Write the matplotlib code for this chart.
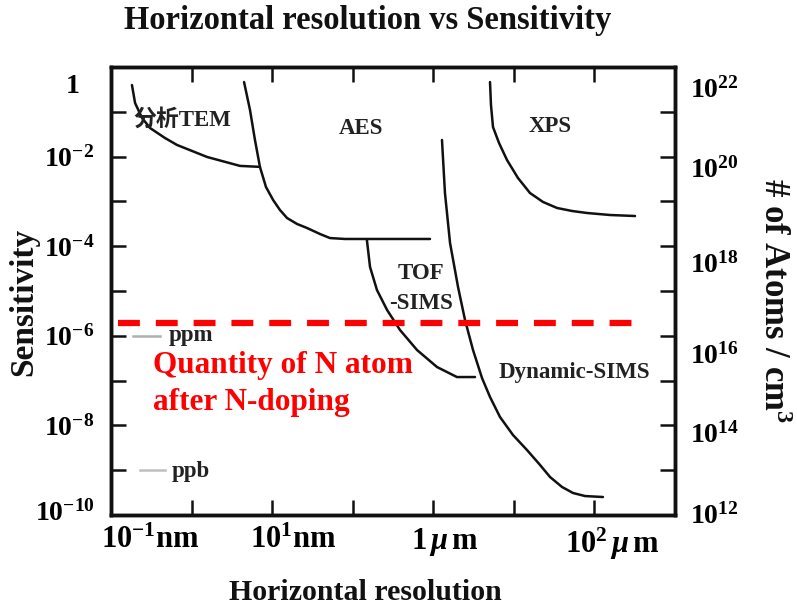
import matplotlib
matplotlib.use("Agg")
import matplotlib.pyplot as plt
import numpy as np

plt.rcParams['font.family'] = ['Liberation Serif', 'Noto Sans CJK SC', 'DejaVu Sans']
plt.rcParams['font.weight'] = 'bold'
plt.rcParams['mathtext.fontset'] = 'custom'
plt.rcParams['mathtext.rm'] = 'Liberation Serif:bold'
plt.rcParams['mathtext.bf'] = 'Liberation Serif:bold'
plt.rcParams['mathtext.it'] = 'Liberation Serif:bold:italic'

# ---------------- data (resolution in nm, sensitivity as fraction) -------------
tem_x = [0.182, 0.199, 0.243, 0.305, 0.468, 0.659, 1.56, 3.99, 7.06]
tem_y = [0.396, 0.157, 0.0728, 0.0435, 0.0260, 0.0182, 0.0098, 0.0062, 0.0059]

aes_x = [4.48, 5.31, 6.12, 7.06, 8.39, 10.3, 12.5, 15.3, 20.4, 27.1, 39.3, 52.2, 80.2, 910]
aes_y = [0.462, 0.110, 0.0235, 0.00586, 0.00209, 0.00107, 0.000643, 0.000426,
         0.000313, 0.000255, 0.000187, 0.000152, 0.000145, 0.000145]

tof_x = [150, 164, 200, 267, 386, 628, 1112, 1968, 3296]
tof_y = [1.37e-4, 3.44e-5, 1.05e-5, 3.77e-6, 1.35e-6, 4.82e-7, 2.01e-7, 1.20e-7, 1.20e-7]

dyn_x = [1282, 1396, 1614, 2028, 2477, 3112, 4027, 5058, 6730, 9750, 14560,
         21130, 28120, 39630, 54200, 76380, 127600]
dyn_y = [2.35e-2, 1.54e-3, 1.18e-4, 1.23e-5, 2.25e-6, 4.82e-7, 1.14e-7, 4.31e-8,
         1.54e-8, 6.11e-9, 2.82e-9, 1.31e-9, 7.05e-10, 4.22e-10, 3.10e-10, 2.65e-10, 2.52e-10]

xps_x = [5058, 5200, 5508, 6546, 8222, 11250, 15850, 23010, 34360, 52720, 80910, 156000, 319200]
xps_y = [0.462, 0.142, 0.0458, 0.0201, 0.00839, 0.00333, 0.00154, 0.000971,
         0.000713, 0.000611, 0.000551, 0.000497, 0.000472]

n_doping_level = 1.95e-6
n_doping_x = [0.122, 3.19e5]

ppm_level = 1e-6
ppm_x = [0.1875, 0.405]
ppb_level = 1e-9
ppb_x = [0.229, 0.468]

x_tick_pos = [1e0, 1e1, 1e2, 1e3, 1e4, 1e5]
x_label_pos = [0.305, 18.2, 1396, 1.65e5]
x_labels = [r'$10^{-1}$nm', r'$10^{1}$nm', r'$1\,\mu\,$m', r'$10^{2}\,\mu\,$m']

y_tick_pos = [1e-1, 1e-2, 1e-3, 1e-4, 1e-5, 1e-6, 1e-7, 1e-8, 1e-9]
y_label_pos = [10**-0.36, 1e-2, 1e-4, 1e-6, 1e-8, 10**-9.9]
y_labels = ['1  ', r'$10^{-2}$', r'$10^{-4}$', r'$10^{-6}$', r'$10^{-8}$', r'$10^{-10}$']

r_tick_pos = [1e13, 1e14, 1e15, 1e16, 1e17, 1e18, 1e19, 1e20, 1e21]
r_label_pos = [10**21.55, 10**19.77, 10**17.65, 10**15.6, 10**13.85, 10**12.04]
r_labels = [r'$10^{22}$', r'$10^{20}$', r'$10^{18}$', r'$10^{16}$', r'$10^{14}$', r'$10^{12}$']

# ---------------- figure ----------------
W, H = 797, 611
fig = plt.figure(figsize=(W / 100, H / 100), dpi=100)
ax = fig.add_axes([111 / W, 1 - 515 / H, 564 / W, 448 / H])
ax.set_xscale('log')
ax.set_yscale('log')
ax.set_xlim(1e-1, 1e6)
ax.set_ylim(1e-10, 1)
ax.xaxis.remove_overlapping_locs = False
ax.yaxis.remove_overlapping_locs = False

curve_kw = dict(color='#111111', lw=1.8, solid_capstyle='round', solid_joinstyle='round')
for xs, ys in [(tem_x, tem_y), (aes_x, aes_y), (tof_x, tof_y), (dyn_x, dyn_y), (xps_x, xps_y)]:
    ax.plot(xs, ys, **curve_kw)

ax.plot(n_doping_x, [n_doping_level] * 2, color='#ff0000', lw=4.5,
        linestyle=(0, (3.5, 2.55)), dash_capstyle='butt')

ax.plot(ppm_x, [ppm_level] * 2, color='#b0b0b0', lw=1.8)
ax.plot(ppb_x, [ppb_level] * 2, color='#c0c0c0', lw=1.8)

lab_kw = dict(transform=ax.transAxes, fontsize=16.5, color='#222222', fontweight='bold')
ax.text(0.039, 0.882, '分析TEM', ha='left', va='center', **lab_kw)
ax.text(0.443, 0.862, 'AES', ha='center', va='center', **lab_kw)
ax.text(0.778, 0.868, 'XPS', ha='center', va='center', **lab_kw)
ax.text(0.550, 0.540, 'TOF', ha='center', va='center', **lab_kw)
ax.text(0.550, 0.473, '-SIMS', ha='center', va='center', **lab_kw)
ax.text(0.821, 0.317, 'Dynamic-SIMS', ha='center', va='center', **lab_kw)
ax.text(0.103, 0.400, 'ppm', ha='left', va='center', **lab_kw)
ax.text(0.108, 0.098, 'ppb', ha='left', va='center', **lab_kw)

red_kw = dict(transform=ax.transAxes, fontsize=22.5, color='#ff0000', fontweight='bold',
              ha='left', va='baseline')
ax.text(0.0745, 0.317, 'Quantity of N atom', **red_kw)
ax.text(0.0745, 0.234, 'after N-doping', **red_kw)

# ticks
ax.set_xticks(x_tick_pos, labels=[''] * len(x_tick_pos))
ax.set_xticks(x_label_pos, labels=x_labels, minor=True)
ax.set_yticks(y_tick_pos, labels=[''] * len(y_tick_pos))
ax.set_yticks(y_label_pos, labels=y_labels, minor=True)
ax.tick_params(axis='both', which='major', direction='in', length=11, width=1.8,
               top=True, bottom=True, left=True, right=False, color='#111111')
ax.tick_params(axis='x', which='minor', length=0, pad=8, labelsize=22, top=False)
ax.tick_params(axis='y', which='minor', length=0, pad=12, labelsize=20, right=False)

for s in ax.spines.values():
    s.set_linewidth(2.5)
    s.set_color('#111111')

ax2 = ax.twinx()
ax2.set_yscale('log')
ax2.set_ylim(1e12, 1e22)
ax2.yaxis.remove_overlapping_locs = False
ax2.set_yticks(r_tick_pos, labels=[''] * len(r_tick_pos))
ax2.set_yticks(r_label_pos, labels=r_labels, minor=True)
ax2.tick_params(axis='y', which='major', direction='in', length=11, width=1.8, color='#111111')
ax2.tick_params(axis='y', which='minor', length=0, pad=11, labelsize=20)
for s in ax2.spines.values():
    s.set_linewidth(2.5)
    s.set_color('#111111')

fig.text(368 / W, 1 - 21 / H, 'Horizontal resolution vs Sensitivity', ha='center', va='center',
         fontsize=23.5, fontweight='bold', color='#111111')
fig.text(365 / W, 1 - 592 / H, 'Horizontal resolution', ha='center', va='center',
         fontsize=21.5, fontweight='bold', color='#111111')
fig.text(24 / W, 1 - 302 / H, 'Sensitivity', ha='center', va='center', rotation=90,
         fontsize=24, fontweight='bold', color='#111111')
fig.text(773 / W, 1 - 301 / H, r'# of Atoms / cm$^{3}$', ha='center', va='center', rotation=270,
         fontsize=25, fontweight='bold', color='#111111')

fig.savefig('out.png', dpi=100)
